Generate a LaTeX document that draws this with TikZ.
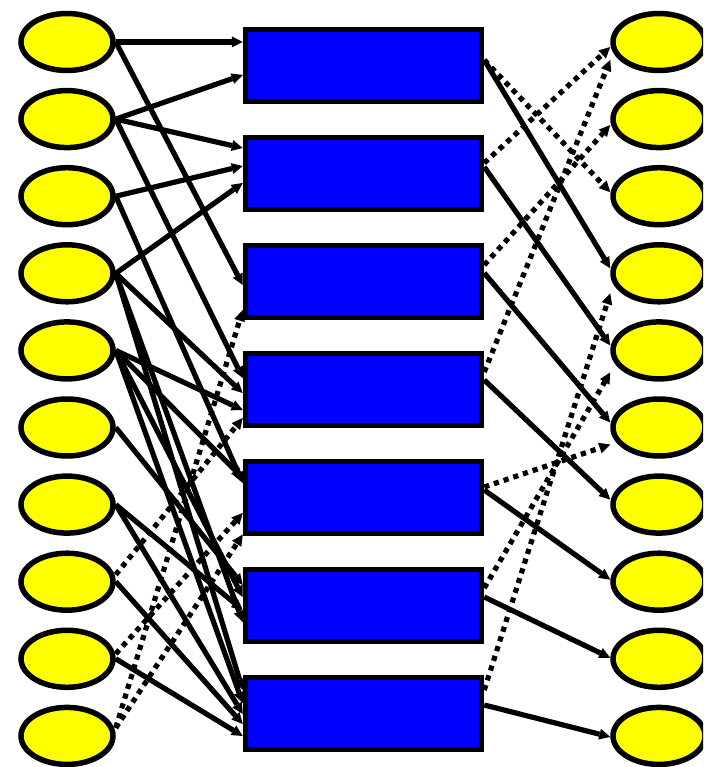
\documentclass[tikz,border=0pt]{standalone}
\usetikzlibrary{shapes.geometric,arrows.meta}
\definecolor{leafyellow}{RGB}{255,255,0}
\definecolor{slotblue}{RGB}{0,0,255}
\begin{document}
\begin{tikzpicture}[x=1pt,y=-1pt,
  src/.style={ellipse, draw=black, fill=leafyellow, line width=5.5pt,
    minimum width=92pt, minimum height=57pt, inner sep=0pt},
  slot/.style={rectangle, draw=black, fill=slotblue, line width=5.5pt,
    minimum width=236pt, minimum height=72pt, inner sep=0pt},
  link/.style={line width=5.2pt, line cap=butt,
    -{Triangle[length=11pt,width=11pt,line width=0pt]}},
  hint/.style={link, dash pattern=on 5.2pt off 5pt}]
\useasboundingbox (0,0) rectangle (703,767);
\clip (0,0) rectangle (703,767);

% left and right columns of ellipses
\foreach \i in {1,...,10} {
  \node[src] (L\i) at (67,{42+77.1*(\i-1)}) {};
  \node[src] (R\i) at (659,{42+77.1*(\i-1)}) {};
}
% middle column of boxes
\foreach \i in {1,...,7} {
  \node[slot] (B\i) at (363.5,{65.5+108*(\i-1)}) {};
}

% solid links from the left column into the boxes
\foreach \s/\t/\d in {L1/B1/23.5, L1/B3/-3.5, L2/B1/-9.5, L2/B2/25.5,
    L2/B4/11.5, L3/B2/7.5, L3/B5/14.5, L4/B2/-9.5, L4/B4/-3.5,
    L4/B6/-16.5, L4/B7/23.5, L5/B4/-20.5, L5/B5/19.5, L5/B6/8.5,
    L5/B7/10.5, L6/B6/20.5, L7/B6/-4.5, L7/B7/-0.5, L8/B7/-10.5,
    L9/B7/-22.5}
  \draw[link] (\s.east) -- ([yshift=\d pt]\t.west);

% dotted links from the lower left ellipses into the boxes
\foreach \s/\a/\t/\d in {L8/7/B4/-28.5, L9/5/B5/-15.5,
    L10/8/B5/-37, L10/8/B3/-28.5}
  \draw[hint] ([yshift=\a pt]\s.east) -- ([yshift=\d pt]\t.west);

% solid links from the boxes to the right column
\foreach \s/\a/\t/\d in {B1/5.5/R4/5, B2/6.5/R5/5, B3/8.5/R6/5,
    B4/9.5/R7/5, B5/7.5/R8/2, B6/8.5/R9/1, B7/8.5/R10/-1}
  \draw[link] ([yshift=\a pt]\s.east) -- ([yshift=\d pt]\t.west);

% dotted links from the boxes to the right column
\foreach \s/\a/\t/\d in {B1/5.5/R3/4, B2/10.5/R1/-5, B3/16.5/R2/-6,
    B4/17.5/R1/-18, B5/10.5/R6/-17, B6/17.5/R5/-22, B7/23.5/R4/-20}
  \draw[hint] ([yshift=\a pt]\s.east) -- ([yshift=\d pt]\t.west);
\end{tikzpicture}
\end{document}
